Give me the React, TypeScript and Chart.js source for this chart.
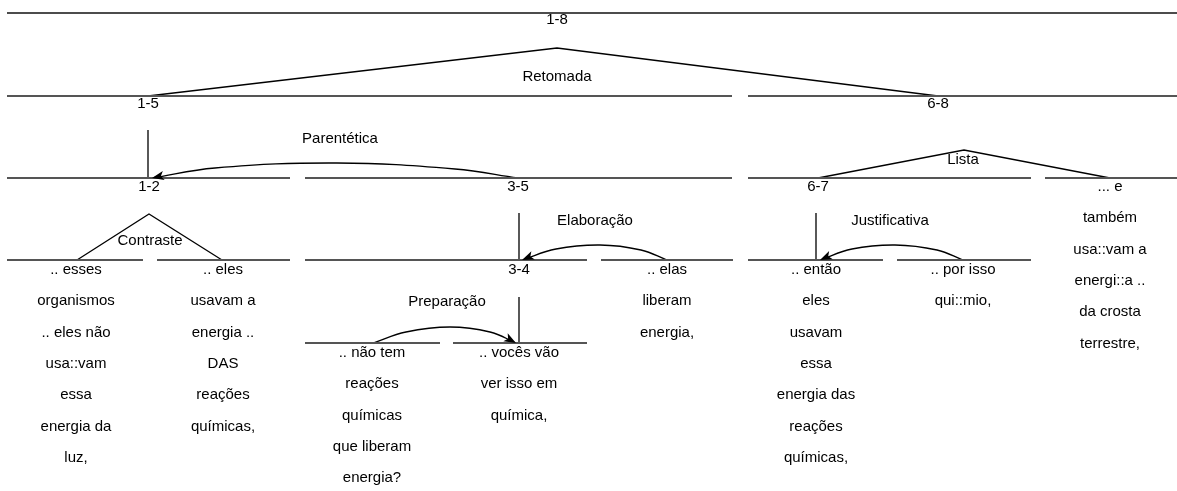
import React, { useEffect, useRef } from "react";
import { Chart, registerables } from "chart.js";

Chart.register(...registerables);

const W = 1177;
const H = 491;

// Span (segment) lines: [y, x0, x1]
const topLine: number[] = [13, 7, 1177];
const spanLines: number[][] = [
  [96, 7, 732], [96, 748, 1177],
  [178, 7, 290], [178, 305, 732], [178, 748, 1031], [178, 1045, 1177],
  [260, 7, 143], [260, 157, 290], [260, 305, 587], [260, 601, 733], [260, 748, 883], [260, 897, 1031],
  [343, 305, 440], [343, 453, 587],
];

// Multinuclear relations (left, apex, right)
const triangles: number[][][] = [
  [[148, 96], [557, 48], [938, 96]],
  [[818, 178], [964, 150], [1110, 178]],
  [[77, 260], [149, 214], [222, 260]],
];

// Nucleus vertical lines: [x, yTop, yBottom]
const verticals: number[][] = [
  [148, 130, 178],
  [519, 213, 260],
  [816, 213, 260],
  [519, 297, 343],
];

// Satellite arcs (points along each curve, arrow at the last one)
const arcs: number[][][] = [
  [[518, 178], [455, 169], [337, 163], [215, 168], [152, 178]],
  [[667, 260], [641, 250], [600, 245], [556, 249], [522, 260]],
  [[963, 260], [937, 250], [895, 245], [852, 249], [820, 260]],
  [[373, 343], [406, 332], [450, 327], [490, 332], [516, 343]],
];

// Node span labels: [text, x, y]
const nodeLabels: [string, number, number][] = [
  ["1-8", 557, 20],
  ["1-5", 148, 104],
  ["6-8", 938, 104],
  ["1-2", 149, 187],
  ["3-5", 518, 187],
  ["6-7", 818, 187],
  ["3-4", 519, 270],
];

// Relation names: [text, x, y]
const relationLabels: [string, number, number][] = [
  ["Retomada", 557, 77],
  ["Parentética", 340, 139],
  ["Lista", 963, 160],
  ["Contraste", 150, 241],
  ["Elaboração", 595, 221],
  ["Justificativa", 890, 221],
  ["Preparação", 447, 302],
];

// Leaf segment texts
const leafX: number[] = [76, 223, 372, 519, 667, 816, 963, 1110];
const leafY: number[] = [270, 270, 353, 353, 270, 270, 270, 187];
const leafLines: string[][] = [
  [".. esses", "organismos", ".. eles não", "usa::vam", "essa", "energia da", "luz,"],
  [".. eles", "usavam a", "energia ..", "DAS", "reações", "químicas,"],
  [".. não tem", "reações", "químicas", "que liberam", "energia?"],
  [".. vocês vão", "ver isso em", "química,"],
  [".. elas", "liberam", "energia,"],
  [".. então", "eles", "usavam", "essa", "energia das", "reações", "químicas,"],
  [".. por isso", "qui::mio,"],
  ["... e", "também", "usa::vam a", "energi::a ..", "da crosta", "terrestre,"],
];
const lineStep = 31.3;

const FONT = '15px "Liberation Sans", Arial, sans-serif';

function seg(points: number[][], color: string, width: number, tension = 0, kind = "") {
  return {
    type: "line" as const,
    data: points.map((p) => ({ x: p[0], y: p[1] })),
    borderColor: color,
    backgroundColor: color,
    borderWidth: width,
    pointRadius: 0,
    pointHoverRadius: 0,
    showLine: true,
    fill: false,
    tension,
    kind,
  };
}

const treePlugin = {
  id: "treeText",
  afterDatasetsDraw(chart: any) {
    const ctx = chart.ctx as CanvasRenderingContext2D;
    const xs = chart.scales.x;
    const ys = chart.scales.y;
    // arrow heads
    chart.data.datasets.forEach((ds: any, i: number) => {
      if (ds.kind !== "arc") return;
      const meta = chart.getDatasetMeta(i);
      const last = meta.data[meta.data.length - 1] as any;
      const prev = meta.data[meta.data.length - 2] as any;
      const cx = prev.cp2x ?? prev.x;
      const cy = prev.cp2y ?? prev.y;
      const ang = Math.atan2(last.y - cy, last.x - cx);
      const L = 12;
      const hw = 4.5;
      ctx.save();
      ctx.fillStyle = "#000";
      ctx.translate(last.x, last.y);
      ctx.rotate(ang);
      ctx.beginPath();
      ctx.moveTo(0, 0);
      ctx.lineTo(-L, -hw);
      ctx.lineTo(-L * 0.75, 0);
      ctx.lineTo(-L, hw);
      ctx.closePath();
      ctx.fill();
      ctx.restore();
    });

    ctx.save();
    ctx.font = FONT;
    ctx.fillStyle = "#000";
    ctx.textAlign = "center";
    ctx.textBaseline = "middle";
    const put = (t: string, x: number, y: number) =>
      ctx.fillText(t, xs.getPixelForValue(x), ys.getPixelForValue(y));
    nodeLabels.forEach(([t, x, y]) => put(t, x, y));
    relationLabels.forEach(([t, x, y]) => put(t, x, y));
    leafLines.forEach((lines, i) => {
      lines.forEach((t, k) => put(t, leafX[i], leafY[i] + k * lineStep));
    });
    ctx.restore();
  },
};

export default function App() {
  const ref = useRef<HTMLCanvasElement | null>(null);
  useEffect(() => {
    if (!ref.current) return;
    const datasets: any[] = [];
    datasets.push(seg([[topLine[1], topLine[0]], [topLine[2], topLine[0]]], "#111", 1.5));
    spanLines.forEach(([y, x0, x1]) => datasets.push(seg([[x0, y], [x1, y]], "#555", 2)));
    triangles.forEach((t) => datasets.push(seg(t, "#000", 1.3)));
    verticals.forEach(([x, y0, y1]) => datasets.push(seg([[x, y0], [x, y1]], "#000", 1.3)));
    arcs.forEach((a) => datasets.push(seg(a, "#000", 1.3, 0.4, "arc")));

    const chart = new Chart(ref.current, {
      type: "scatter",
      data: { datasets },
      options: {
        animation: false,
        responsive: false,
        devicePixelRatio: 1,
        layout: { padding: 0 },
        events: [],
        scales: {
          x: { type: "linear", min: 0, max: W, display: false },
          y: { type: "linear", min: 0, max: H, reverse: true, display: false },
        },
        plugins: { legend: { display: false }, tooltip: { enabled: false } },
      } as any,
      plugins: [treePlugin],
    });
    return () => chart.destroy();
  }, []);
  return (
    <div style={{ position: "fixed", left: 0, top: 0, width: W, height: H, background: "#fff" }}>
      <canvas ref={ref} width={W} height={H} style={{ display: "block" }} />
    </div>
  );
}
